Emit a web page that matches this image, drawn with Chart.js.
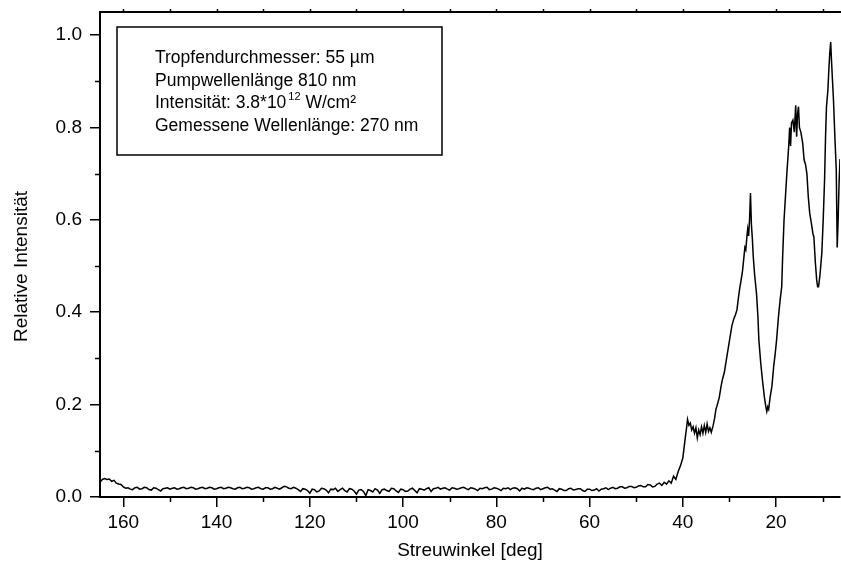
<!DOCTYPE html>
<html>
<head>
<meta charset="utf-8">
<script src="https://cdn.jsdelivr.net/npm/chart.js@4"></script>
<style>
  html, body { margin: 0; padding: 0; background: #fff; overflow: hidden; }
</style>
</head>
<body>
<canvas id="myChart" width="841" height="574"></canvas>
<script>
// Streuwinkel (deg), plotted right to left
const angles = [
  165, 164.5, 164, 163.5, 163, 162.5, 162, 161.5, 161, 160.5,
  160, 159.5, 159, 158.5, 158, 157.5, 157, 156.5, 156, 155.5,
  155, 154.5, 154, 153.5, 153, 152.5, 152, 151.5, 151, 150.5,
  150, 149.5, 149, 148.5, 148, 147.5, 147, 146.5, 146, 145.5,
  145, 144.5, 144, 143.5, 143, 142.5, 142, 141.5, 141, 140.5,
  140, 139.5, 139, 138.5, 138, 137.5, 137, 136.5, 136, 135.5,
  135, 134.5, 134, 133.5, 133, 132.5, 132, 131.5, 131, 130.5,
  130, 129.5, 129, 128.5, 128, 127.5, 127, 126.5, 126, 125.5,
  125, 124.5, 124, 123.5, 123, 122.5, 122, 121.5, 121, 120.5,
  120, 119.5, 119, 118.5, 118, 117.5, 117, 116.5, 116, 115.5,
  115, 114.5, 114, 113.5, 113, 112.5, 112, 111.5, 111, 110.5,
  110, 109.5, 109, 108.5, 108, 107.5, 107, 106.5, 106, 105.5,
  105, 104.5, 104, 103.5, 103, 102.5, 102, 101.5, 101, 100.5,
  100, 99.5, 99, 98.5, 98, 97.5, 97, 96.5, 96, 95.5,
  95, 94.5, 94, 93.5, 93, 92.5, 92, 91.5, 91, 90.5,
  90, 89.5, 89, 88.5, 88, 87.5, 87, 86.5, 86, 85.5,
  85, 84.5, 84, 83.5, 83, 82.5, 82, 81.5, 81, 80.5,
  80, 79.5, 79, 78.5, 78, 77.5, 77, 76.5, 76, 75.5,
  75, 74.5, 74, 73.5, 73, 72.5, 72, 71.5, 71, 70.5,
  70, 69.5, 69, 68.5, 68, 67.5, 67, 66.5, 66, 65.5,
  65, 64.5, 64, 63.5, 63, 62.5, 62, 61.5, 61, 60.5,
  60, 59.5, 59, 58.5, 58, 57.5, 57, 56.5, 56, 55.5,
  55, 54.5, 54, 53.5, 53, 52.5, 52, 51.5, 51, 50.5,
  50, 49.5, 49, 48.5, 48, 47.5, 47, 46.5, 46, 45.5,
  45, 44.5, 44, 43.5, 43, 42.5, 42, 41.5, 41, 40.5, 40,
  39.7, 39.4, 39.2, 39.0, 38.7, 38.4, 38.1, 37.8, 37.5, 37.2, 36.9, 36.6, 36.3, 36.0,
  35.7, 35.4, 35.1, 34.8, 34.5, 34.2, 33.9, 33.5, 33.2, 32.9, 32.6, 32.2, 31.8, 31.5,
  31.1, 30.7, 30.3, 29.9, 29.5, 29.1, 28.7, 28.4, 28.1, 27.8, 27.5, 27.2, 26.9, 26.7,
  26.5, 26.3, 26.1, 25.9, 25.7, 25.5, 25.3, 25.1, 24.9, 24.6, 24.2, 23.9, 23.7, 23.3,
  22.9, 22.5, 22.2, 22.0, 21.8, 21.6, 21.3, 20.9, 20.5, 20.2, 19.9, 19.5, 19.1, 18.8,
  18.6, 18.3, 18.0, 17.7, 17.5, 17.3, 17.1, 16.9, 16.7, 16.4, 16.1, 15.8, 15.6, 15.4,
  15.2, 15.0, 14.7, 14.3, 14.0, 13.7, 13.4, 13.1, 12.8, 12.4, 12.1, 11.9, 11.6, 11.3,
  11.1, 10.9, 10.6, 10.2, 9.9, 9.6, 9.4, 9.2, 8.9, 8.7, 8.5, 8.3, 8.1, 7.9,
  7.7, 7.4, 7.1, 6.9, 6.7, 6.5, 6.3, 6.1
];

// Relative Intensität
const intensity = [
  .032, .038, .040, .038, .039, .034, .036, .030, .028, .027,
  .022, .019, .020, .017, .016, .020, .021, .017, .018, .021,
  .020, .016, .015, .020, .019, .016, .013, .018, .019, .020,
  .017, .019, .020, .017, .018, .020, .021, .018, .019, .021,
  .020, .017, .018, .020, .021, .018, .019, .021, .020, .017,
  .018, .020, .021, .018, .019, .021, .020, .018, .017, .020,
  .021, .018, .019, .021, .020, .017, .018, .020, .021, .018,
  .017, .020, .020, .017, .018, .021, .019, .017, .020, .023,
  .022, .019, .018, .021, .019, .016, .012, .018, .017, .014,
  .008, .017, .016, .011, .013, .019, .018, .015, .009, .017,
  .016, .019, .012, .016, .019, .014, .011, .018, .017, .013,
  .006, .015, .016, .012, .003, .016, .014, .011, .018, .015,
  .008, .016, .017, .014, .012, .019, .018, .013, .010, .017,
  .016, .012, .013, .017, .019, .014, .009, .018, .017, .015,
  .018, .020, .012, .018, .019, .021, .017, .019, .020, .017,
  .015, .020, .019, .017, .018, .020, .021, .018, .016, .020,
  .019, .017, .014, .019, .018, .020, .021, .016, .017, .020,
  .019, .017, .014, .019, .018, .020, .016, .019, .020, .018,
  .013, .019, .017, .020, .019, .017, .016, .019, .020, .016,
  .018, .020, .021, .017, .018, .015, .012, .018, .017, .014,
  .014, .018, .019, .015, .016, .018, .018, .014, .012, .017,
  .017, .014, .015, .018, .013, .017, .018, .020, .016, .019,
  .021, .018, .019, .022, .022, .019, .020, .023, .023, .020,
  .021, .024, .025, .022, .022, .027, .026, .022, .023, .028,
  .030, .025, .032, .028, .035, .030, .045, .038, .055, .068, .085,
  .110, .135, .150, .168, .155, .160, .145, .152, .138, .150, .128, .145, .135, .152,
  .138, .155, .140, .158, .142, .150, .140, .155, .170, .190, .200, .215, .240, .255,
  .270, .295, .320, .345, .370, .385, .395, .405, .430, .452, .470, .490, .520, .540,
  .535, .560, .580, .565, .600, .658, .590, .560, .520, .480, .440, .390, .340, .290,
  .250, .215, .195, .185, .195, .190, .215, .240, .285, .310, .340, .390, .430, .455,
  .520, .600, .650, .700, .730, .760, .800, .760, .810, .816, .790, .848, .780, .830,
  .845, .800, .790, .766, .730, .720, .700, .650, .615, .590, .570, .563, .510, .470,
  .455, .455, .480, .528, .600, .690, .780, .845, .880, .924, .960, .985, .940, .900,
  .860, .780, .708, .540, .600, .680, .730, .740
];

const xTickLabels = [160, 140, 120, 100, 80, 60, 40, 20];
const xMinorTicks = [150, 130, 110, 90, 70, 50, 30, 10];
const yTickLabels = [0, 0.2, 0.4, 0.6, 0.8, 1.0];
const yMinorTicks = [0.1, 0.3, 0.5, 0.7, 0.9];

const xTitle = 'Streuwinkel [deg]';
const yTitle = 'Relative Intensität';
const noteLines = [
  'Tropfendurchmesser: 55 µm',
  'Pumpwellenlänge 810 nm',
  'Intensität: 3.8*10^12 W/cm²',
  'Gemessene Wellenlänge: 270 nm'
];

const FONT = "'Liberation Sans', Arial, sans-serif";

// frame, minor ticks, y title and the text box
const framePlugin = {
  id: 'frame',
  afterDraw(chart) {
    const ctx = chart.ctx;
    const area = chart.chartArea;
    const xs = chart.scales.x;
    const ys = chart.scales.y;
    ctx.save();
    ctx.strokeStyle = '#000';
    ctx.lineWidth = 2;
    ctx.beginPath();
    ctx.moveTo(area.left, area.top);
    ctx.lineTo(area.right + 2, area.top);
    ctx.stroke();

    ctx.lineWidth = 1.5;
    ctx.beginPath();
    xMinorTicks.forEach(v => {
      const px = Math.round(xs.getPixelForValue(v)) + 0.5;
      ctx.moveTo(px, area.bottom);
      ctx.lineTo(px, area.bottom + 5);
    });
    xTickLabels.concat(xMinorTicks).forEach(v => {
      const px = Math.round(xs.getPixelForValue(v)) + 0.5;
      ctx.moveTo(px, area.top);
      ctx.lineTo(px, area.top - 3);
    });
    yMinorTicks.forEach(v => {
      const py = Math.round(ys.getPixelForValue(v)) + 0.5;
      ctx.moveTo(area.left, py);
      ctx.lineTo(area.left - 5, py);
    });
    ctx.stroke();

    ctx.fillStyle = '#000';
    // y axis title
    ctx.save();
    ctx.translate(22, (area.top + area.bottom) / 2 + 12);
    ctx.rotate(-Math.PI / 2);
    ctx.font = '19px ' + FONT;
    ctx.textAlign = 'center';
    ctx.textBaseline = 'middle';
    ctx.fillText(yTitle, 0, 0);
    ctx.restore();

    // text box
    const bx = area.left + 17, by = area.top + 15;
    ctx.lineWidth = 1.5;
    ctx.strokeRect(bx, by, 325, 128);
    ctx.textBaseline = 'middle';
    ctx.textAlign = 'left';
    noteLines.forEach((line, i) => {
      const y = by + 31 + i * 22.7;
      let x = bx + 38;
      const parts = line.split(/\^(\d+)/);
      parts.forEach((p, j) => {
        if (j % 2 === 1) {
          ctx.font = '11px ' + FONT;
          ctx.fillText(p, x + 2, y - 6);
          x += ctx.measureText(p).width + 2;
        } else {
          ctx.font = '17.5px ' + FONT;
          ctx.fillText(p, x, y);
          x += ctx.measureText(p).width;
        }
      });
    });
    ctx.restore();
  }
};

const data = {
  datasets: [{
    label: 'Intensität',
    data: angles.map((a, i) => ({ x: a, y: intensity[i] })),
    borderColor: '#000',
    borderWidth: 1.5,
    pointRadius: 0,
    tension: 0,
    fill: false
  }]
};

const config = {
  type: 'line',
  data: data,
  plugins: [framePlugin],
  options: {
    responsive: false,
    animation: false,
    layout: { padding: { left: 0, top: 12, right: 1, bottom: 0 } },
    plugins: {
      legend: { display: false },
      tooltip: { enabled: false }
    },
    scales: {
      x: {
        type: 'linear',
        reverse: true,
        min: 6.3,
        max: 165,
        afterBuildTicks: s => { s.ticks = xTickLabels.map(v => ({ value: v })); },
        afterFit: s => { s.height = 77; s.paddingLeft = 0; s.paddingRight = 0; },
        ticks: { color: '#000', font: { family: FONT, size: 19 }, padding: 4, maxRotation: 0, autoSkip: false },
        grid: { drawOnChartArea: false, tickLength: 10, color: '#000', lineWidth: 1.5 },
        border: { color: '#000', width: 2 },
        title: { display: true, text: xTitle, color: '#000', font: { family: FONT, size: 19 }, padding: { bottom: 12 } }
      },
      y: {
        min: 0,
        max: 1.05,
        afterBuildTicks: s => { s.ticks = yTickLabels.map(v => ({ value: v })); },
        afterFit: s => { s.width = 100; s.paddingTop = 0; s.paddingBottom = 0; },
        ticks: { color: '#000', font: { family: FONT, size: 19 }, padding: 8, callback: v => v.toFixed(1) },
        grid: { drawOnChartArea: false, tickLength: 10, color: '#000', lineWidth: 1.5 },
        border: { color: '#000', width: 2 },
        title: { display: false }
      }
    }
  }
};

const myChart = new Chart(document.getElementById('myChart'), config);
</script>
</body>
</html>
